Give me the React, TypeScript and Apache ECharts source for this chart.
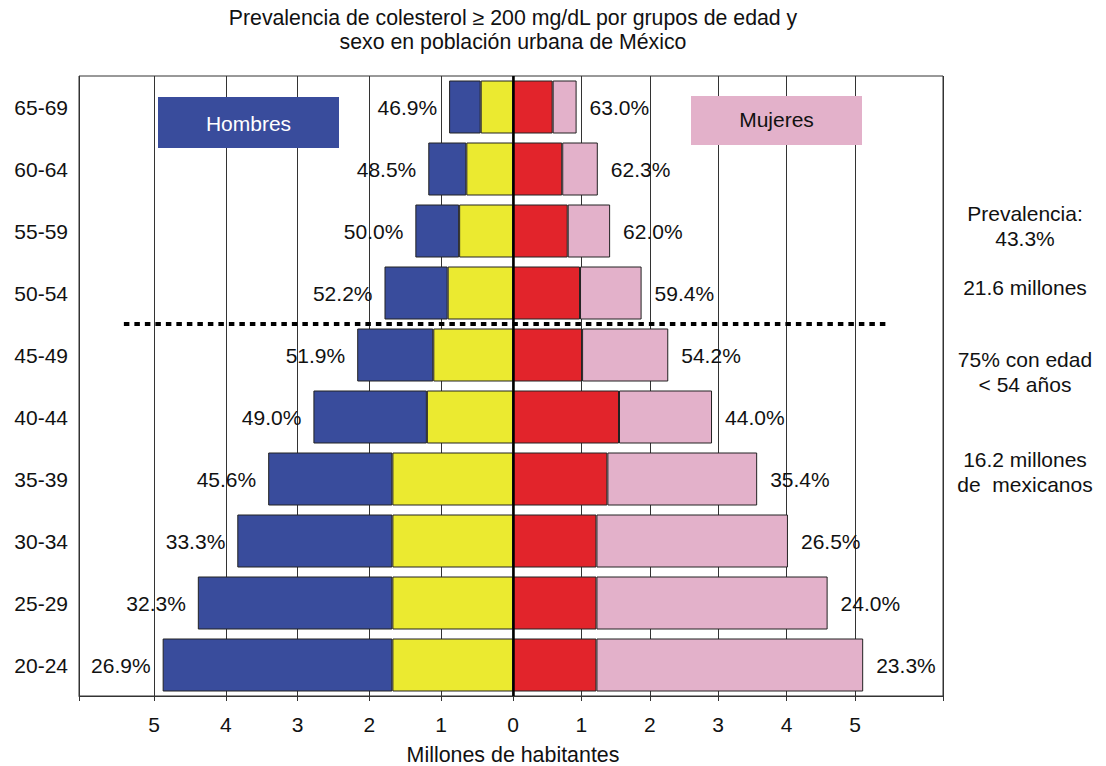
import React, { useEffect, useRef } from 'react';
import * as echarts from 'echarts';

// Age groups, bottom to top
const ageGroups = ['20-24', '25-29', '30-34', '35-39', '40-44', '45-49', '50-54', '55-59', '60-64', '65-69'];
// Men: total population (millions) and part with cholesterol >= 200 mg/dL (yellow)
const menTotal = [4.88, 4.39, 3.84, 3.41, 2.78, 2.17, 1.79, 1.36, 1.18, 0.89];
const menHigh = [1.68, 1.68, 1.68, 1.68, 1.2, 1.11, 0.91, 0.75, 0.65, 0.45];
// Women: total population (millions) and part with cholesterol >= 200 mg/dL (red)
const womenTotal = [5.12, 4.6, 4.02, 3.57, 2.91, 2.27, 1.88, 1.42, 1.24, 0.93];
const womenHigh = [1.22, 1.22, 1.22, 1.38, 1.55, 1.01, 0.98, 0.8, 0.72, 0.58];
// Prevalence labels
const menPct = ['26.9%', '32.3%', '33.3%', '45.6%', '49.0%', '51.9%', '52.2%', '50.0%', '48.5%', '46.9%'];
const womenPct = ['23.3%', '24.0%', '26.5%', '35.4%', '44.0%', '54.2%', '59.4%', '62.0%', '62.3%', '63.0%'];
// Axis ticks
const xTicks = [0, 1, 2, 3, 4, 5];
const titleText = 'Prevalencia de colesterol \u2265 200 mg/dL por grupos de edad y\nsexo en población urbana de México';
const axisName = 'Millones de habitantes';
const legendMen = 'Hombres';
const legendWomen = 'Mujeres';
const sideNotes = [
  'Prevalencia:\n43.3%',
  '21.6 millones',
  '75% con edad\n< 54 años',
  '16.2 millones\nde  mexicanos',
];
const dividerBetween = ['45-49', '50-54'];

const FONT = '"Liberation Sans", Arial, Helvetica, sans-serif';
const BLUE = '#394c9c';
const YELLOW = '#ebea30';
const RED = '#e2242b';
const PINK = '#e3b1ca';
const LEFT_MAX = 6.045;
const RIGHT_MAX = 6.287;

export default function App() {
  const ref = useRef<HTMLDivElement>(null);

  useEffect(() => {
    document.body.style.margin = '0';
    const chart = echarts.init(ref.current!, null, { renderer: 'svg' });

    const menLow = menTotal.map((t, i) => +(t - menHigh[i]).toFixed(3));
    const womenLow = womenTotal.map((t, i) => +(t - womenHigh[i]).toFixed(3));

    const barBorder = { borderColor: '#222', borderWidth: 1 };
    const labelStyle = { fontSize: 21, color: '#111', fontFamily: FONT };

    const xAxisCommon = {
      type: 'value',
      min: 0,
      axisLine: { show: true, onZero: false, lineStyle: { color: '#333', width: 1 } },
      axisTick: { show: true, length: 5, lineStyle: { color: '#333' } },
      splitLine: { show: true, lineStyle: { color: '#333', width: 1 } },
    };

    const option: any = {
      animation: false,
      textStyle: { fontFamily: FONT },
      grid: [
        { left: 79, top: 76, width: 434, height: 620, show: true, borderColor: '#333', borderWidth: 1 },
        { left: 513, top: 76, width: 430, height: 620, show: true, borderColor: '#333', borderWidth: 1 },
      ],
      xAxis: [
        {
          ...xAxisCommon,
          gridIndex: 0,
          inverse: true,
          max: LEFT_MAX,
          axisTick: { ...xAxisCommon.axisTick, customValues: [...xTicks, LEFT_MAX] },
          axisLabel: { customValues: xTicks, margin: 18, ...labelStyle },
        },
        {
          ...xAxisCommon,
          gridIndex: 1,
          max: RIGHT_MAX,
          axisTick: { ...xAxisCommon.axisTick, customValues: [...xTicks, RIGHT_MAX] },
          axisLabel: { customValues: xTicks.filter((v) => v > 0), margin: 18, ...labelStyle },
        },
      ],
      yAxis: [
        {
          gridIndex: 0,
          type: 'category',
          data: ageGroups,
          position: 'left',
          axisLine: { show: false, onZero: false },
          axisTick: { show: false },
          splitLine: { show: false },
          axisLabel: { margin: 11, ...labelStyle },
        },
        { gridIndex: 1, type: 'category', data: ageGroups, show: false },
      ],
      series: [
        {
          name: 'Hombres colesterol alto',
          type: 'bar',
          xAxisIndex: 0,
          yAxisIndex: 0,
          stack: 'h',
          barWidth: 53,
          data: menHigh,
          itemStyle: { color: YELLOW, ...barBorder },
        },
        {
          name: legendMen,
          type: 'bar',
          xAxisIndex: 0,
          yAxisIndex: 0,
          stack: 'h',
          barWidth: 53,
          data: menLow,
          itemStyle: { color: BLUE, ...barBorder },
          label: {
            show: true,
            position: 'left',
            distance: 12,
            formatter: (p: any) => menPct[p.dataIndex],
            ...labelStyle,
          },
        },
        {
          name: 'Mujeres colesterol alto',
          type: 'bar',
          xAxisIndex: 1,
          yAxisIndex: 1,
          stack: 'm',
          barWidth: 53,
          data: womenHigh,
          itemStyle: { color: RED, ...barBorder },
          markLine: {
            silent: true,
            symbol: ['none', 'none'],
            label: { show: false },
            lineStyle: { color: '#000', width: 2.5, type: 'solid' },
            data: [{ xAxis: 0 }],
          },
        },
        {
          name: legendWomen,
          type: 'bar',
          xAxisIndex: 1,
          yAxisIndex: 1,
          stack: 'm',
          barWidth: 53,
          data: womenLow,
          itemStyle: { color: PINK, ...barBorder },
          label: {
            show: true,
            position: 'right',
            distance: 13,
            formatter: (p: any) => womenPct[p.dataIndex],
            ...labelStyle,
          },
        },
      ],
    };

    chart.setOption(option);

    const yA = chart.convertToPixel({ yAxisIndex: 0 }, dividerBetween[0]) as number;
    const yB = chart.convertToPixel({ yAxisIndex: 0 }, dividerBetween[1]) as number;
    const yMid = (yA + yB) / 2;
    const xStart = chart.convertToPixel({ xAxisIndex: 0 }, 5.42) as number;
    const xEnd = chart.convertToPixel({ xAxisIndex: 1 }, 5.5) as number;
    const zero = chart.convertToPixel({ xAxisIndex: 0 }, 0) as number;

    const txt = (text: string, x: number, y: number, extra: any = {}) => ({
      type: 'text',
      x,
      y,
      z: 20,
      style: {
        text,
        fill: '#111',
        fontSize: 21,
        fontFamily: FONT,
        lineHeight: 25,
        align: 'center',
        verticalAlign: 'middle',
        textAlign: 'center',
        textVerticalAlign: 'middle',
        ...extra,
      },
    });

    chart.setOption({
      graphic: [
        txt(titleText, zero, 30, { fontSize: 21.3, lineHeight: 24 }),
        txt(axisName, zero, 755, { fontSize: 21.4 }),
        {
          type: 'line',
          z: 15,
          shape: { x1: xStart, y1: yMid, x2: xEnd, y2: yMid },
          style: { stroke: '#000', lineWidth: 4, lineDash: [5.5, 5] },
        },
        { type: 'rect', z: 15, shape: { x: 158, y: 97, width: 181, height: 51 }, style: { fill: BLUE } },
        txt(legendMen, 248.5, 123, { fill: '#fff' }),
        { type: 'rect', z: 15, shape: { x: 691, y: 96, width: 171, height: 49 }, style: { fill: PINK } },
        txt(legendWomen, 776.5, 119, { fill: '#111' }),
        txt(sideNotes[0], 1025, 226),
        txt(sideNotes[1], 1025, 287),
        txt(sideNotes[2], 1025, 372),
        txt(sideNotes[3], 1025, 472),
      ],
    });

    return () => chart.dispose();
  }, []);

  return <div ref={ref} style={{ width: 1106, height: 766 }} />;
}
